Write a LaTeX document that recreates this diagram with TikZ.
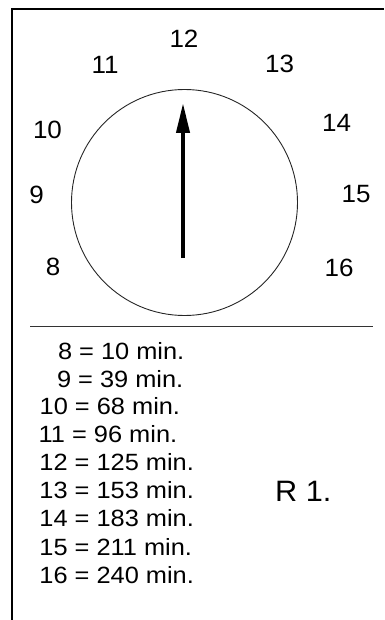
\documentclass[tikz,border=0pt]{standalone}
\usepackage{fontspec}
\usetikzlibrary{arrows.meta}
\newfontfamily\clockfont[FakeStretch=1.04]{Liberation Sans}
\newfontfamily\legendfont[FakeStretch=1.08]{Liberation Sans}
\tikzset{
  hour/.style={inner sep=0pt, anchor=center, font=\clockfont\fontsize{25}{30}\selectfont},
  legline/.style={inner sep=0pt, anchor=west, font=\legendfont\fontsize{23.5}{28}\selectfont},
  title/.style={inner sep=0pt, anchor=west, font=\clockfont\fontsize{29.5}{34}\selectfont},
  frameline/.style={line width=2pt, black},
  dial/.style={line width=0.9pt, black!85},
  hand/.style={line width=4pt, -{Triangle[length=30pt,width=13pt]}},
  sep/.style={line width=1pt, black!80}
}
\begin{document}
\begin{tikzpicture}[x=1pt,y=-1pt]
\useasboundingbox (0,0) rectangle (384,620);
% frame
\coordinate (fbl) at (12,620);
\coordinate (ftl) at (12,9);
\coordinate (ftr) at (384,9);
\draw[frameline] (fbl) -- (ftl) -- (ftr);
% dial
\coordinate (c) at (184.5,202.5);
\draw[dial] (c) circle[radius=113];
% hand
\coordinate (hbase) at (183,258);
\coordinate (htip) at (183,103);
\draw[hand] (hbase) -- (htip);
% hour numbers
\node[hour] (n12) at (184,38.5) {12};
\node[hour] (n11) at (105,65) {11};
\node[hour] (n13) at (279.5,64) {13};
\node[hour] (n10) at (47.5,130) {10};
\node[hour] (n14) at (336.5,123) {14};
\node[hour] (n9) at (36.5,195) {9};
\node[hour] (n15) at (356,194) {15};
\node[hour] (n8) at (53,267) {8};
\node[hour] (n16) at (339,268) {16};
% separator
\coordinate (sl) at (30,326);
\coordinate (sr) at (373,326);
\draw[sep] (sl) -- (sr);
% legend
\node[legline] (l8) at (57.8,351) {8 = 10 min.};
\node[legline] (l9) at (56.8,379) {9 = 39 min.};
\node[legline] (l10) at (39.5,406) {10 = 68 min.};
\node[legline] (l11) at (38.5,434) {11 = 96 min.};
\node[legline] (l12) at (39.2,462) {12 = 125 min.};
\node[legline] (l13) at (39.2,490) {13 = 153 min.};
\node[legline] (l14) at (39.2,518) {14 = 183 min.};
\node[legline] (l15) at (39.2,547) {15 = 211 min.};
\node[legline] (l16) at (39.2,575) {16 = 240 min.};
\node[title] (r1) at (275,491) {R 1.};
\end{tikzpicture}
\end{document}
